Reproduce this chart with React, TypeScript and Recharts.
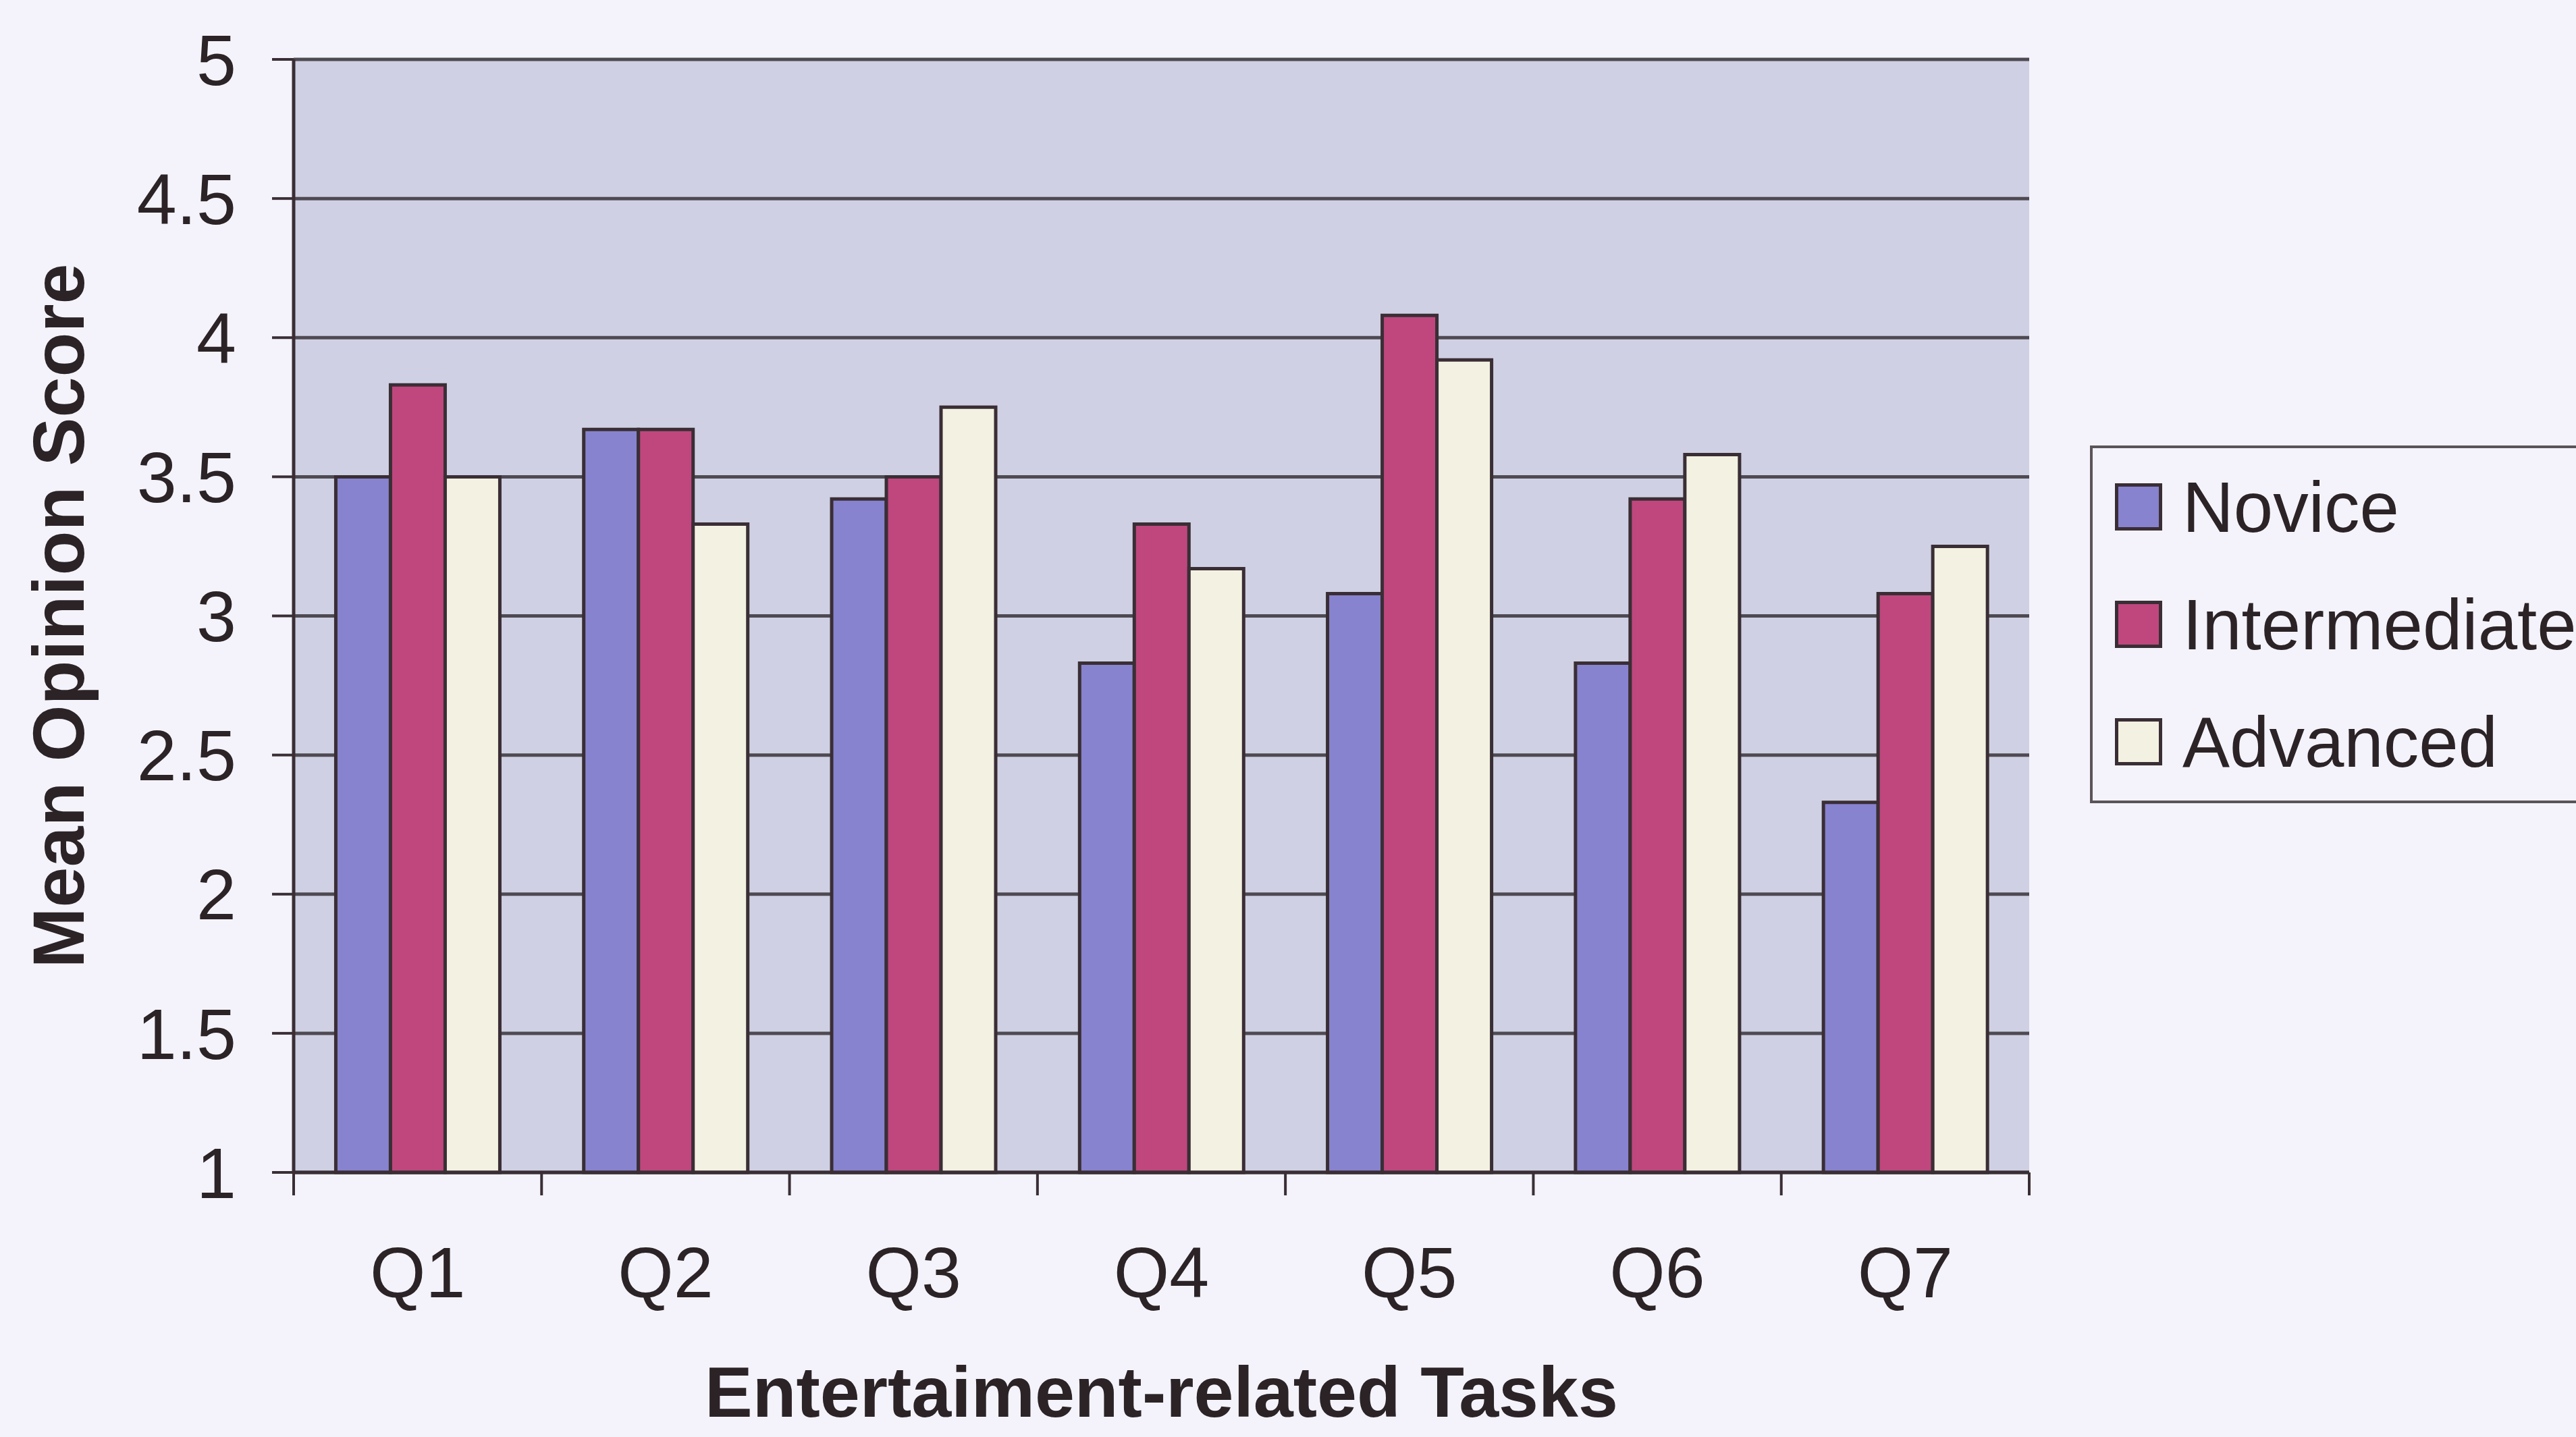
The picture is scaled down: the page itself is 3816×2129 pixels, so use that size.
import React from 'react';
import {
  BarChart,
  Bar,
  XAxis,
  YAxis,
  CartesianGrid,
  Legend,
  Label,
} from 'recharts';

// Mean opinion scores per task, by user experience level
const tasks = ['Q1', 'Q2', 'Q3', 'Q4', 'Q5', 'Q6', 'Q7'];
const novice = [3.5, 3.67, 3.42, 2.83, 3.08, 2.83, 2.33];
const intermediate = [3.83, 3.67, 3.5, 3.33, 4.08, 3.42, 3.08];
const advanced = [3.5, 3.33, 3.75, 3.17, 3.92, 3.58, 3.25];
const scoreTicks = [1, 1.5, 2, 2.5, 3, 3.5, 4, 4.5, 5];
const seriesOrder = ['novice', 'intermediate', 'advanced'];

const FONT = '"Liberation Sans", Arial, sans-serif';
const TEXT = '#2b2326';
const EDGE = '#3a2e35';
const X_TICK_LEN = 34;
const X_TICK_GAP = 76;

const data = tasks.map((task, i) => ({
  task,
  novice: novice[i],
  intermediate: intermediate[i],
  advanced: advanced[i],
}));

// Excel-style category ticks: marks sit on the band edges, labels in the middle
const CategoryTick = (props: any) => {
  const { x, y, payload, index } = props;
  const half = payload?.offset ?? 0;
  const top = y - X_TICK_GAP - X_TICK_LEN;
  const isLast = index === tasks.length - 1;
  return (
    <g>
      <line x1={x - half} x2={x - half} y1={top} y2={top + X_TICK_LEN} stroke={EDGE} strokeWidth={4} />
      {isLast && (
        <line x1={x + half} x2={x + half} y1={top} y2={top + X_TICK_LEN} stroke={EDGE} strokeWidth={4} />
      )}
      <text
        x={x}
        y={y}
        dy="0.71em"
        textAnchor="middle"
        fill={TEXT}
        fontSize={106}
        fontFamily={FONT}
      >
        {payload.value}
      </text>
    </g>
  );
};

const renderLegend = (props: any) => {
  const items = [...(props.payload || [])].sort(
    (a: any, b: any) => seriesOrder.indexOf(a.dataKey) - seriesOrder.indexOf(b.dataKey)
  );
  return (
    <div
      style={{
        width: 900,
        height: 530,
        boxSizing: 'border-box',
        border: '4px solid #5a5458',
        paddingLeft: 33,
        fontFamily: FONT,
        fontSize: 105,
        color: TEXT,
      }}
    >
      {items.map((entry: any) => (
        <div
          key={entry.value}
          style={{ height: 174, display: 'flex', alignItems: 'center', whiteSpace: 'nowrap' }}
        >
          <span
            style={{
              display: 'inline-block',
              width: 70,
              height: 70,
              boxSizing: 'border-box',
              background: entry.color,
              border: `5px solid ${EDGE}`,
              marginRight: 30,
            }}
          />
          <span style={{ lineHeight: 1 }}>{entry.value}</span>
        </div>
      ))}
    </div>
  );
};

const App: React.FC = () => {
  return (
    <div
      style={{
        position: 'absolute',
        left: 0,
        top: 0,
        width: 3816,
        height: 2129,
        overflow: 'hidden',
        background: '#f4f3fb',
      }}
    >
      <BarChart
        width={3816}
        height={2129}
        data={data}
        margin={{ top: 88, right: 810, left: 0, bottom: 0 }}
        barCategoryGap="17%"
        barGap={0}
      >
        <CartesianGrid
          vertical={false}
          fill="#cfd0e3"
          fillOpacity={1}
          stroke="#4f4a52"
          strokeWidth={5}
        />
        <XAxis
          dataKey="task"
          height={392}
          axisLine={{ stroke: EDGE, strokeWidth: 5 }}
          tickLine={false}
          tickSize={X_TICK_LEN}
          tickMargin={X_TICK_GAP}
          tick={<CategoryTick />}
          interval={0}
        >
          <Label
            value="Entertaiment-related Tasks"
            position="insideBottom"
            offset={30}
            fill={TEXT}
            fontSize={106}
            fontWeight="bold"
            fontFamily={FONT}
          />
        </XAxis>
        <YAxis
          domain={[1, 5]}
          ticks={scoreTicks}
          width={435}
          axisLine={{ stroke: EDGE, strokeWidth: 5 }}
          tickLine={{ stroke: EDGE, strokeWidth: 4 }}
          tickSize={32}
          tickMargin={53}
          tick={{ fill: TEXT, fontSize: 106, fontFamily: FONT }}
        >
          <Label
            value="Mean Opinion Score"
            angle={-90}
            position="insideLeft"
            offset={86}
            fill={TEXT}
            fontSize={108}
            fontWeight="bold"
            fontFamily={FONT}
            style={{ textAnchor: 'middle' }}
          />
        </YAxis>
        <YAxis
          yAxisId="frame"
          orientation="right"
          domain={[1, 5]}
          width={0}
          tick={false}
          tickLine={false}
          axisLine={{ stroke: '#8a8790', strokeWidth: 3 }}
        />
        <Legend
          layout="horizontal"
          align="center"
          verticalAlign="middle"
          content={renderLegend}
          wrapperStyle={{ left: 3096, top: 660, width: 900, height: 530 }}
        />
        <Bar dataKey="novice" name="Novice" fill="#8783cf" stroke={EDGE} strokeWidth={5} isAnimationActive={false} />
        <Bar dataKey="intermediate" name="Intermediate" fill="#bf477e" stroke={EDGE} strokeWidth={5} isAnimationActive={false} />
        <Bar dataKey="advanced" name="Advanced" fill="#f3f1e1" stroke={EDGE} strokeWidth={5} isAnimationActive={false} />
      </BarChart>
    </div>
  );
};

export default App;
